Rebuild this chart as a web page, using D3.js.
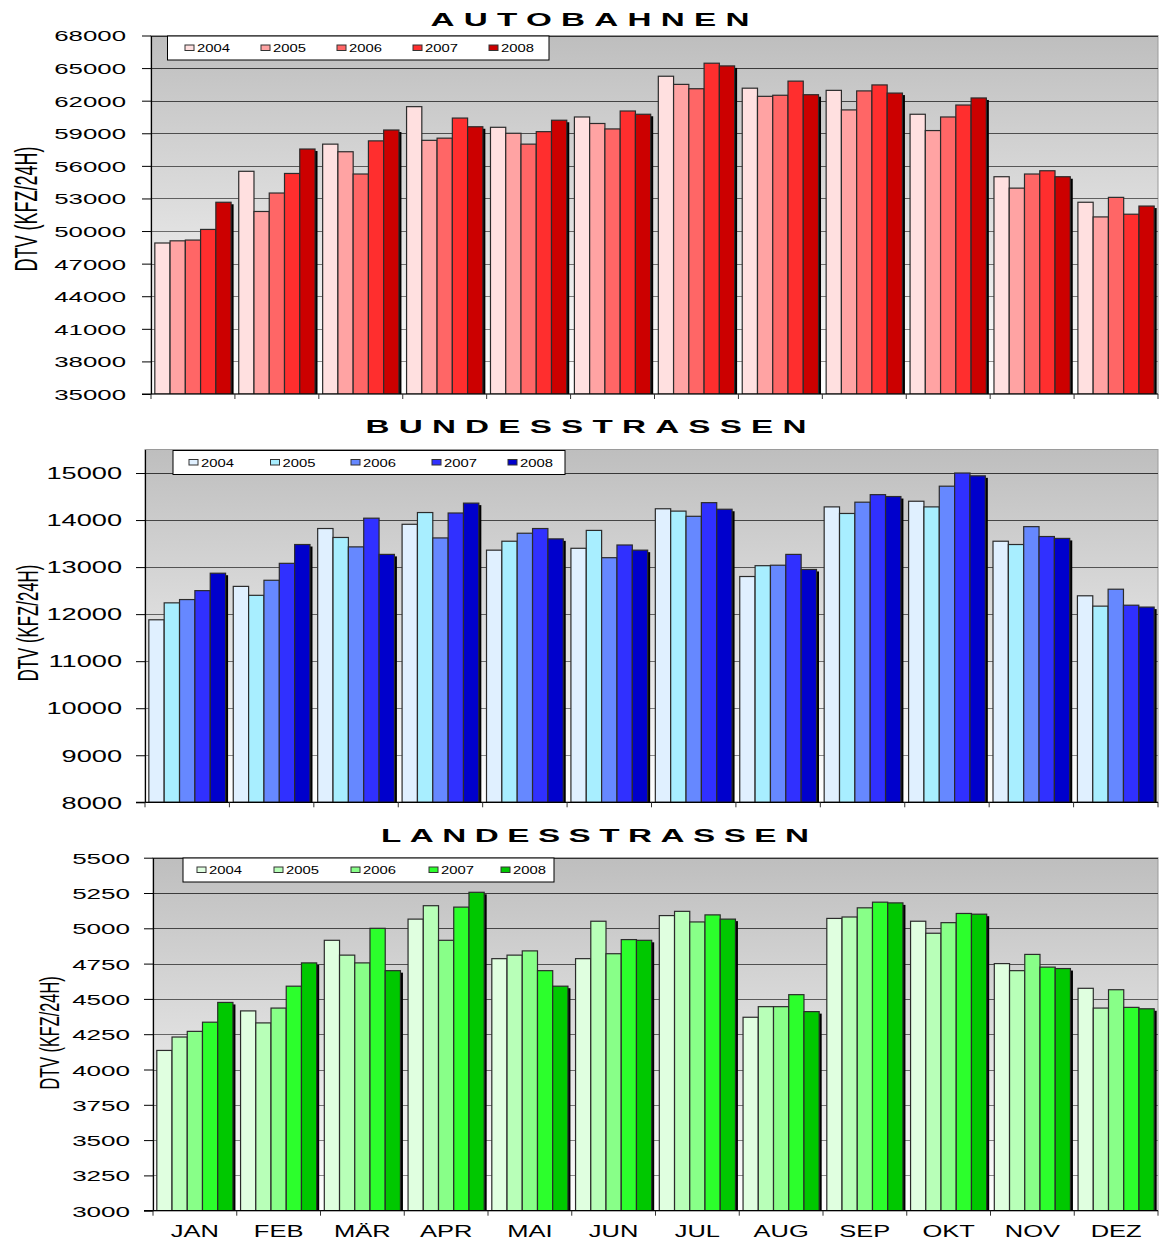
<!DOCTYPE html>
<html>
<head>
<meta charset="utf-8">
<script src="https://cdn.jsdelivr.net/npm/d3@7"></script>
<style>
  html, body { margin: 0; padding: 0; background: #fff; }
  svg { display: block; }
</style>
</head>
<body>
<svg id="chart" width="1164" height="1241"></svg>
<script>
// ---------------- DATA ----------------
const months = ["JAN", "FEB", "MÄR", "APR", "MAI", "JUN", "JUL", "AUG", "SEP", "OKT", "NOV", "DEZ"];
const years = ["2004", "2005", "2006", "2007", "2008"];

const autobahnen2004 = [48900, 55500, 58000, 61450, 59550, 60500, 64250, 63150, 62950, 60750, 55000, 52650];
const autobahnen2005 = [49100, 51800, 57300, 58350, 59000, 59900, 63500, 62400, 61150, 59250, 53950, 51300];
const autobahnen2006 = [49170, 53500, 55250, 58550, 58000, 59400, 63100, 62500, 62900, 60500, 55250, 53100];
const autobahnen2007 = [50150, 55300, 58300, 60400, 59150, 61050, 65450, 63800, 63450, 61600, 55550, 51550];
const autobahnen2008 = [52650, 57550, 59300, 59600, 60200, 60750, 65200, 62550, 62700, 62250, 55000, 52300];

const bundes2004 = [11880, 12590, 13820, 13910, 13360, 13400, 14240, 12800, 14280, 14400, 13550, 12390];
const bundes2005 = [12240, 12400, 13630, 14160, 13550, 13780, 14190, 13030, 14140, 14280, 13480, 12170];
const bundes2006 = [12310, 12720, 13430, 13620, 13720, 13200, 14080, 13040, 14380, 14720, 13860, 12530];
const bundes2007 = [12500, 13080, 14040, 14150, 13820, 13470, 14370, 13270, 14540, 15000, 13650, 12190];
const bundes2008 = [12870, 13480, 13270, 14360, 13600, 13360, 14230, 12950, 14500, 14940, 13610, 12150];

const landes2004 = [4135, 4415, 4915, 5065, 4785, 4785, 5090, 4370, 5070, 5050, 4750, 4575];
const landes2005 = [4230, 4330, 4810, 5160, 4810, 5050, 5120, 4445, 5080, 4965, 4700, 4435];
const landes2006 = [4270, 4435, 4755, 4915, 4840, 4820, 5045, 4445, 5145, 5040, 4815, 4565];
const landes2007 = [4335, 4590, 5000, 5150, 4700, 4920, 5095, 4530, 5185, 5105, 4725, 4440];
const landes2008 = [4475, 4755, 4700, 5255, 4590, 4915, 5065, 4410, 5180, 5100, 4715, 4430];

const autobahnTicks = [35000, 38000, 41000, 44000, 47000, 50000, 53000, 56000, 59000, 62000, 65000, 68000];
const bundesTicks = [8000, 9000, 10000, 11000, 12000, 13000, 14000, 15000];
const landesTicks = [3000, 3250, 3500, 3750, 4000, 4250, 4500, 4750, 5000, 5250, 5500];

const titles = ["AUTOBAHNEN", "BUNDESSTRASSEN", "LANDESSTRASSEN"];
const yAxisTitle = "DTV (KFZ/24H)";

// ---------------- STYLE / LAYOUT ----------------
const FONT = "'Liberation Sans', Arial, Helvetica, sans-serif";
const reds = ["#FFE0E0", "#FFA3A3", "#FF6666", "#FF2E2E", "#CC0000"];
const blues = ["#E0F0FF", "#A8EEFF", "#6688FF", "#3030FF", "#0000CC"];
const greens = ["#E0FFE0", "#B8FFB8", "#88FF88", "#2CFF2C", "#00C800"];

const charts = [
  {
    title: titles[0], series: [autobahnen2004, autobahnen2005, autobahnen2006, autobahnen2007, autobahnen2008],
    colors: reds, ticks: autobahnTicks, domain: [35000, 68000],
    x0: 151, x1: 1158, yTop: 35.5, yBottom: 394,
    titleX: 430.5, titleY: 26, titleW: 319,
    labelOff: 25, labelSize: 15, labelSx: 1.72,
    yTitle: { x: 26, y: 209, size: 18 },
    legend: { x: 167.5, y: 36, w: 381.5, h: 24, sw: [185, 261, 337, 413, 489] },
    monthLabels: false
  },
  {
    title: titles[1], series: [bundes2004, bundes2005, bundes2006, bundes2007, bundes2008],
    colors: blues, ticks: bundesTicks, domain: [8000, 15500],
    x0: 145, x1: 1158, yTop: 449.5, yBottom: 802.3,
    titleX: 365.5, titleY: 433, titleW: 441,
    labelOff: 23, labelSize: 16, labelSx: 1.7,
    yTitle: { x: 27, y: 623, size: 16.8 },
    legend: { x: 173, y: 450.5, w: 392, h: 24, sw: [189, 270.5, 351, 432, 508] },
    monthLabels: false
  },
  {
    title: titles[2], series: [landes2004, landes2005, landes2006, landes2007, landes2008],
    colors: greens, ticks: landesTicks, domain: [3000, 5500],
    x0: 153, x1: 1158, yTop: 857.7, yBottom: 1210.7,
    titleX: 381, titleY: 842, titleW: 428,
    labelOff: 23, labelSize: 15.5, labelSx: 1.68,
    yTitle: { x: 49, y: 1033, size: 16.3 },
    legend: { x: 183, y: 858, w: 371, h: 24, sw: [197, 274, 351, 429, 501] },
    monthLabels: true
  }
];

const svg = d3.select("#chart");
const defs = svg.append("defs");

const grad = defs.append("linearGradient").attr("id", "plotGrad")
  .attr("x1", 0).attr("y1", 0).attr("x2", 0).attr("y2", 1);
grad.append("stop").attr("offset", "0%").attr("stop-color", "#BEBEBE");
grad.append("stop").attr("offset", "100%").attr("stop-color", "#FFFFFF");

function sText(parent, x, y, str, o) {
  const tr = `translate(${x},${y}) scale(${o.sx},1)` + (o.rot ? ` rotate(${o.rot})` : "");
  const g = parent.append("g").attr("transform", tr);
  const t = g.append("text")
    .attr("font-family", FONT)
    .attr("font-size", o.size)
    .attr("font-weight", o.weight || "normal")
    .attr("text-anchor", o.anchor || "start")
    .attr("fill", "#000")
    .text(str);
  if (o.dy) t.attr("dy", o.dy);
  if (o.len) t.attr("textLength", o.len).attr("lengthAdjust", "spacing");
  return t;
}

const gridColor = d3.interpolateRgb("#303030", "#9a9a9a");

charts.forEach((c, ci) => {
  const g = svg.append("g");
  const y = d3.scaleLinear().domain(c.domain).range([c.yBottom, c.yTop]);
  const x = d3.scaleBand().domain(months).range([c.x0, c.x1]).paddingInner(0).paddingOuter(0);
  const xs = d3.scaleBand().domain(years).range([0, x.bandwidth()]).paddingInner(0).paddingOuter(0.25);

  // plot background
  g.append("rect")
    .attr("x", c.x0).attr("y", c.yTop)
    .attr("width", c.x1 - c.x0).attr("height", c.yBottom - c.yTop)
    .attr("fill", "url(#plotGrad)")
    .attr("stroke", "#9a9a9a").attr("stroke-width", 1);

  // gridlines
  g.append("g").selectAll("line")
    .data(c.ticks.filter(t => t !== c.domain[0]))
    .join("line")
    .attr("x1", c.x0).attr("x2", c.x1)
    .attr("y1", d => Math.round(y(d)) + 0.5).attr("y2", d => Math.round(y(d)) + 0.5)
    .attr("stroke", d => gridColor((y(d) - c.yTop) / (c.yBottom - c.yTop)))
    .attr("stroke-width", 1);

  // clip for shadows
  const clipId = "clip" + ci;
  defs.append("clipPath").attr("id", clipId).append("rect")
    .attr("x", c.x0).attr("y", c.yTop).attr("width", c.x1 - c.x0 + 6).attr("height", c.yBottom - c.yTop);

  const barsG = g.append("g").attr("clip-path", `url(#${clipId})`);
  months.forEach((m, mi) => {
    years.forEach((yr, si) => {
      const v = c.series[si][mi];
      const bx = x(m) + xs(yr);
      const bw = xs.bandwidth();
      if (si === years.length - 1) {
        barsG.append("rect")
          .attr("x", bx + 2.5).attr("y", y(v) + 2)
          .attr("width", bw).attr("height", c.yBottom - y(v))
          .attr("fill", "#000");
      }
      barsG.append("rect")
        .attr("x", bx).attr("y", y(v))
        .attr("width", bw).attr("height", c.yBottom - y(v))
        .attr("fill", c.colors[si])
        .attr("stroke", "#2b2b2b").attr("stroke-width", 1.2);
    });
  });

  // y axis
  const yAxis = d3.axisLeft(y).tickValues(c.ticks).tickSize(9).tickSizeOuter(0).tickFormat(d3.format("d"));
  const ya = g.append("g").attr("transform", `translate(${c.x0},0)`).call(yAxis);
  ya.select(".domain").attr("stroke", "#000").attr("stroke-width", 1.2);
  ya.selectAll(".tick line").attr("stroke", "#000");
  ya.selectAll(".tick text")
    .attr("font-family", FONT).attr("font-size", c.labelSize).attr("fill", "#000")
    .attr("x", -c.labelOff / c.labelSx).attr("dy", "0.36em")
    .attr("transform", `scale(${c.labelSx},1)`);

  // x axis line and boundary ticks
  g.append("line")
    .attr("x1", c.x0 - 9).attr("x2", c.x1)
    .attr("y1", c.yBottom).attr("y2", c.yBottom)
    .attr("stroke", "#000").attr("stroke-width", 1.2);
  const bounds = months.map(m => x(m)).concat([c.x1]);
  g.append("g").selectAll("line").data(bounds).join("line")
    .attr("x1", d => d).attr("x2", d => d)
    .attr("y1", c.yBottom).attr("y2", c.yBottom + 5)
    .attr("stroke", "#333").attr("stroke-width", 1);

  if (c.monthLabels) {
    months.forEach(m => {
      sText(g, x(m) + x.bandwidth() / 2, 1236.5, m, { size: 17, sx: 1.5, anchor: "middle" });
    });
  }

  // legend
  const L = c.legend;
  const lg = g.append("g");
  lg.append("rect").attr("x", L.x).attr("y", L.y).attr("width", L.w).attr("height", L.h)
    .attr("fill", "#fff").attr("stroke", "#000").attr("stroke-width", 1);
  years.forEach((yr, si) => {
    lg.append("rect")
      .attr("x", L.sw[si]).attr("y", L.y + 9)
      .attr("width", 9).attr("height", 5.5)
      .attr("fill", c.colors[si]).attr("stroke", "#333").attr("stroke-width", 1);
    sText(lg, L.sw[si] + 12, L.y + 16, yr, { size: 10.8, sx: 1.37 });
  });

  // title
  sText(g, c.titleX, c.titleY, c.title, { size: 19, sx: 1.75, weight: "bold", len: c.titleW / 1.75 });

  // y axis title
  sText(g, c.yTitle.x, c.yTitle.y, yAxisTitle, { size: c.yTitle.size, sx: 1.75, rot: -90, anchor: "middle", dy: "0.36em" });
});
</script>
</body>
</html>
